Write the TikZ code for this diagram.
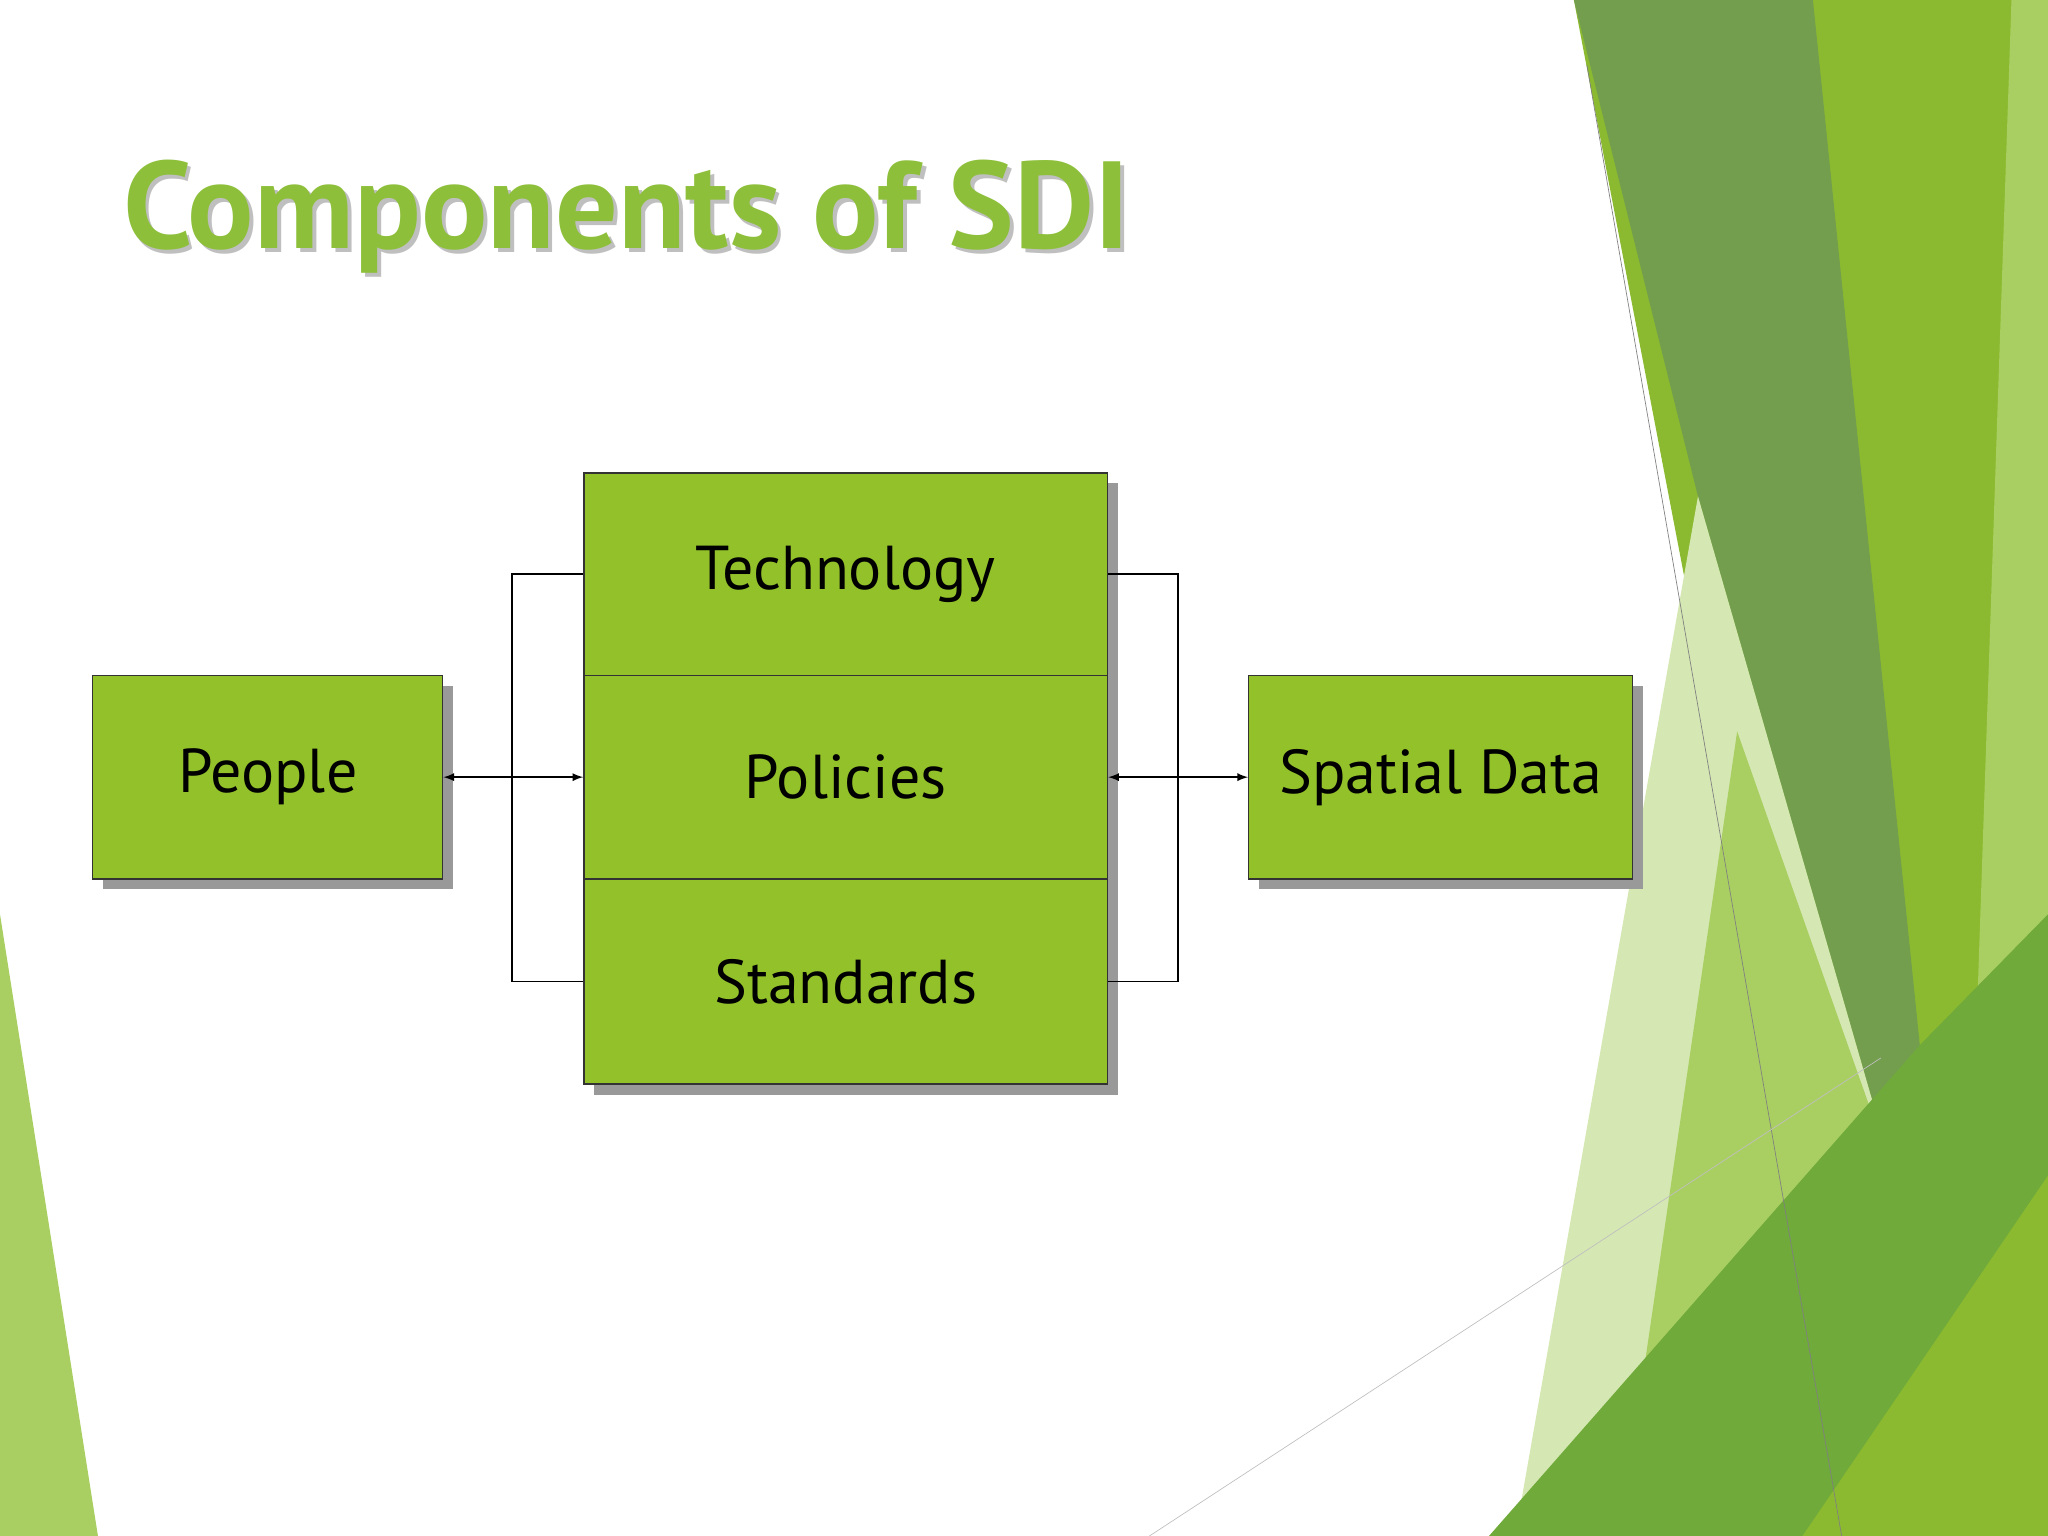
\documentclass[tikz,border=0pt]{standalone}
\usepackage{fontspec}
\setmainfont{PT Sans}
\begin{document}
\begin{tikzpicture}[x=0.02cm,y=-0.02cm,
  box/.style={draw=black!80,fill=boxg,line width=0.6pt,font=\fontsize{27}{30}\selectfont,inner sep=0pt},
  shad/.style={fill=black!40},
  conn/.style={draw=black,line width=0.6pt},
  arr/.style={conn,<->,>=latex}]
\definecolor{boxg}{HTML}{92C12A}
\definecolor{titleg}{HTML}{8DBF3A}
\definecolor{g1}{HTML}{8BBA30}
\definecolor{g2}{HTML}{739E4E}
\definecolor{g3}{HTML}{A9CF62}
\definecolor{g4}{HTML}{D5E8B3}
\definecolor{g5}{HTML}{6FAA3A}
\useasboundingbox (0,0) rectangle (1568,1176);
% background shapes
\fill[g1] (1205,0) -- (1568,0) -- (1568,1176) -- (1430,1176) -- cycle;
\fill[g3] (1540,0) -- (1568,0) -- (1568,1176) -- (1500,1176) -- cycle;
\fill[g2] (1205,0) -- (1388,0) -- (1478,880) -- (1450,900) -- (1300,380) -- cycle;
\fill[g4] (1300,380) -- (1450,900) -- (1440,1176) -- (1160,1176) -- cycle;
\fill[g3] (1330,560) -- (1450,900) -- (1440,1176) -- (1240,1176) -- cycle;
\fill[g5] (1140,1176) -- (1470,800) -- (1568,700) -- (1568,1176) -- cycle;
\fill[g1] (1380,1176) -- (1568,900) -- (1568,1176) -- cycle;
\fill[g3] (0,700) -- (75,1176) -- (0,1176) -- cycle;
\draw[black!50,line width=0.3pt] (1215,50) -- (1410,1176);
\draw[black!25,line width=0.3pt] (880,1176) -- (1440,810);
% title (with soft shadow)
\node[anchor=base west,text=black!25,font=\bfseries\fontsize{54}{60}\selectfont] at (91,193) {Components of SDI};
\node[anchor=base west,text=titleg,font=\bfseries\fontsize{54}{60}\selectfont] (title) at (88,190) {Components of SDI};
% shadows
\fill[shad] (79,525) rectangle (347,681);
\fill[shad] (455,370) rectangle (856,838);
\fill[shad] (964,525) rectangle (1258,681);
% boxes
\node[box,minimum width=268*0.02cm,minimum height=156*0.02cm] (people) at (205,595) {People};
\node[box,minimum width=401*0.02cm,minimum height=155*0.02cm] (tech) at (647.5,439.5) {Technology};
\node[box,minimum width=401*0.02cm,minimum height=156*0.02cm] (pol) at (647.5,595) {Policies};
\node[box,minimum width=401*0.02cm,minimum height=157*0.02cm] (std) at (647.5,751.5) {Standards};
\node[box,minimum width=294*0.02cm,minimum height=156*0.02cm] (sd) at (1103,595) {Spatial Data};
% connectors
\coordinate (lb) at (392,0);
\coordinate (rb) at (902,0);
\draw[conn] (tech.west) -| (lb |- std.west) -- (std.west);
\draw[conn] (tech.east) -| (rb |- std.east) -- (std.east);
\draw[arr] (people.east) -- (pol.west);
\draw[arr] (pol.east) -- (sd.west);
\end{tikzpicture}
\end{document}
